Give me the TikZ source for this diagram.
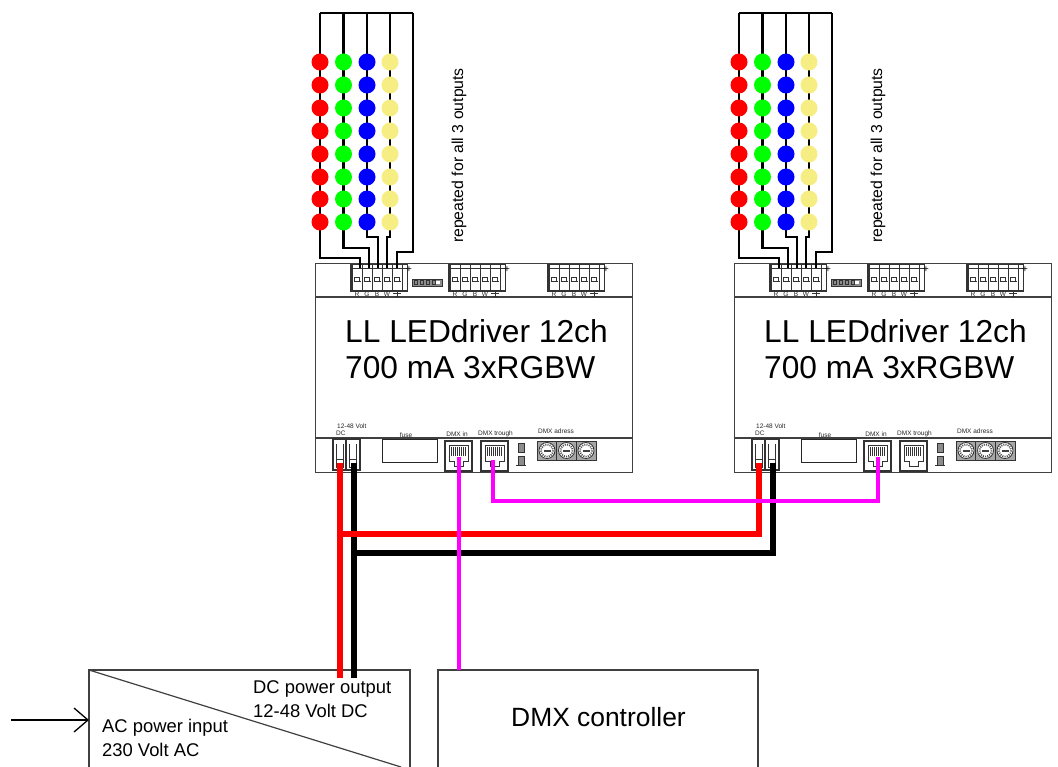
\documentclass[tikz,border=0pt]{standalone}
\usepackage{fontspec}
\setmainfont{Liberation Sans}
\usetikzlibrary{arrows.meta}
\definecolor{dmxpink}{RGB}{255,0,255}
\definecolor{ledred}{RGB}{255,0,0}
\definecolor{ledgreen}{RGB}{0,255,0}
\definecolor{ledblue}{RGB}{0,0,255}
\definecolor{ledwhite}{RGB}{246,238,130}
\tikzset{
  x=1pt,y=-1pt,
  boxline/.style={draw=black!75,line width=1.2pt},
  thin part/.style={draw=black!80,line width=0.8pt},
  led wire/.style={draw=black,line width=2.8pt,line join=miter},
  led/.style={circle,minimum size=17pt,inner sep=0pt,draw=none},
  tiny/.style={font=\fontsize{6.5}{6.5}\selectfont,inner sep=0pt,text=black!85},
  big/.style={font=\fontsize{31.7}{36}\selectfont,align=left,inner sep=0pt,anchor=center},
  mid/.style={font=\fontsize{18.4}{22}\selectfont,align=left,inner sep=0pt,anchor=west},
  redwire/.style={draw=ledred,line width=6pt},
  blackwire/.style={draw=black,line width=6pt},
  dmxwire/.style={draw=dmxpink,line width=4pt},
}
% one terminal block of five cells, left edge #1
\newcommand{\termblock}[2]{%
  \coordinate (#2) at (#1,268);
  \draw[thin part,fill=white] (#1,264) rectangle ++(56,27);
  \draw[thin part] (#1,268) -- ++(56,0);
  \draw[thin part,line width=1.5pt] (#1,264) -- ++(0,27) -- ++(56,0);
  \foreach \c in {0,1,2,3,4}{
    \draw[thin part] (#1+1+\c*10,264) -- ++(0,27);
    \draw[thin part] (#1+3.5+\c*10,281) -- ++(0,-4) -- ++(5,0) -- ++(0,4);
    \draw[thin part] (#1+2.5+\c*10,281) -- ++(7,0);
  }
  \draw[thin part] (#1+51,264) -- ++(0,27);
  \node[font=\fontsize{10}{10}\selectfont,inner sep=0pt] at (#1+58,270) {+};
  \foreach \l [count=\i from 0] in {R,G,B,W}
    \node[tiny] at (#1+6+\i*10,294.5) {\l};
  \draw[thin part] (#1+42,293) -- ++(8,0) (#1+46,290) -- ++(0,7) (#1+44,296) -- ++(4,0);
}
\newcommand{\rj}[1]{%
  \draw[thin part,line width=1.2pt] (#1,441) rectangle ++(27,30);
  \draw[thin part] (#1+4,445) -- ++(19,0) -- ++(0,16) -- ++(-5,0) -- ++(0,5) -- ++(-9,0) -- ++(0,-5) -- ++(-5,0) -- cycle;
  \foreach \k in {0,...,7}
    \draw[thin part,line width=0.7pt] (#1+6.5+\k*2,447) -- ++(0,9);
}
\newcommand{\knob}[1]{%
  \draw[thin part,fill=black!35] (#1-10,441) rectangle (#1+10,460);
  \draw[thin part,fill=white] (#1,450.5) circle (8);
  \draw[black!70,line width=1.8pt,dash pattern=on 1pt off 1.2pt] (#1,450.5) circle (6);
  \fill[black!75] (#1-3.5,449.5) rectangle (#1+3.5,451.5);
}
\newcommand{\driver}[2]{%
\begin{scope}[shift={(#2,0)},name prefix=#1-]
  \node[draw=black!75,line width=1.2pt,minimum width=317pt,minimum height=209pt,inner sep=0pt,anchor=north west] (body) at (315,263) {};
  \draw[boxline] (315,297) -- (632,297);
  \draw[boxline] (315,438) -- (632,438);
  \termblock{351}{t}
  \termblock{449}{u}
  \termblock{548}{v}
  \draw[thin part,fill=black!45] (412,279) rectangle (442,286);
  \fill[white] (436,281) rectangle (440,284);
  \foreach \k in {414,420,426,432} \draw[black!80,line width=0.8pt] (\k,280.5) rectangle ++(3,4);
  % LED strings
  \coordinate (top1) at (320,13);
  \coordinate (top2) at (343.5,13);
  \coordinate (top3) at (367,13);
  \coordinate (top4) at (390,13);
  \coordinate (top5) at (413,13);
  \coordinate (p1) at (360,268);
  \coordinate (p2) at (369,268);
  \coordinate (p3) at (378,268);
  \coordinate (p4) at (387,268);
  \coordinate (p5) at (397,268);
  \draw[led wire] (top1) -- (top5);
  \draw[led wire] (top1) -- ++(0,245) -| (p1);
  \draw[led wire] (top2) -- ++(0,235) -| (p2);
  \draw[led wire] (top3) -- ++(0,224) -| (p3);
  \draw[led wire] (top4) -- ++(0,224) -| (p4);
  \draw[led wire] (top5) -- ++(0,239) -| (p5);
  \foreach \y [count=\n] in {62,85,108,131,154,177,199,222}{
    \node[led,fill=ledred] (r\n) at (320,\y) {};
    \node[led,fill=ledgreen] (g\n) at (343.5,\y) {};
    \node[led,fill=ledblue] (b\n) at (367,\y) {};
    \node[led,fill=ledwhite] (w\n) at (390,\y) {};
  }
  \node[rotate=90,font=\fontsize{15.8}{15.8}\selectfont,inner sep=0pt] (rep) at (459,155.5) {repeated for all 3 outputs};
  \node[big] (title) at (476.5,349) {LL LEDdriver 12ch\\700 mA 3xRGBW};
  % bottom row
  \node[tiny,anchor=west] (vlabel) at (337,426.5) {12-48 Volt};
  \node[tiny,anchor=west] (dclabel) at (336,433.5) {DC};
  \draw[thin part,line width=1.2pt] (333,439) rectangle (346,470);
  \draw[thin part,line width=1.2pt] (346,439) rectangle (360,470);
  \foreach \q in {333,346}{
    \draw[thin part] (\q+3,444) -- ++(0,15) (\q+10,444) -- ++(0,15);
    \draw[thin part] (\q+3,459) rectangle ++(7,8);
  }
  \node[tiny,anchor=center] (fuselabel) at (406,435) {fuse};
  \node[draw=black!85,line width=1.2pt,minimum width=55pt,minimum height=23pt,inner sep=0pt,anchor=north west] (fuse) at (382,439) {};
  \node[tiny,anchor=center] (dmxinl) at (457,434) {DMX in};
  \rj{445}
  \coordinate (in) at (459,457);
  \node[tiny,anchor=center] (dmxthl) at (495.5,434) {DMX trough};
  \rj{481}
  \coordinate (th) at (493,460);
  \draw[thin part,fill=black!45] (518,443) rectangle ++(6,9);
  \draw[thin part,fill=black!45] (518,456) rectangle ++(6,9);
  \draw[thin part] (516,465) -- ++(10,0);
  \node[tiny,anchor=center] (adr) at (556,431) {DMX adress};
  \knob{547}\knob{566.5}\knob{586}
  \coordinate (pr) at (340,463);
  \coordinate (pb) at (354,463);
\end{scope}}
\begin{document}
\begin{tikzpicture}
\useasboundingbox (0,0) rectangle (1058,767);
\fill[white] (0,0) rectangle (1058,767);
\driver{a}{0}
\driver{b}{419}
% power boxes
\coordinate (psuTL) at (89,670);
\coordinate (psuTR) at (410,670);
\coordinate (psuBL) at (89,767);
\coordinate (psuBR) at (410,767);
\coordinate (diagEnd) at (401,767);
\draw[boxline] (psuBL) -- (psuTL) -- (psuTR) -- (psuBR);
\draw[boxline] (psuTL) -- (diagEnd);
\draw[boxline] (438,767) -- (438,670) -- (758,670) -- (758,767);
\coordinate (ctrlIn) at (459,670);
\node[font=\fontsize{26.4}{26.4}\selectfont,inner sep=0pt] (ctrl) at (598.5,717) {DMX controller};
\node[mid] (dcl) at (253,689) {DC power output};
\node[mid] (dcv) at (253,711) {12-48 Volt DC};
\node[mid] (acl) at (102,728) {AC power input};
\node[mid] (acv) at (102,750) {230 Volt AC};
\coordinate (acIn) at (11,720);
\coordinate (acEnd) at (89,720);
\draw[black,line width=1.3pt,-{Straight Barb[length=14pt,width=24pt,line width=1.3pt]}] (acIn) -- (acEnd);
% DC power
\coordinate (psuR) at (340,678);
\coordinate (psuB) at (354,678);
\draw[blackwire] (a-pb) -- (psuB);
\draw[blackwire] (b-pb) |- (a-pb |- 0,553);
\draw[redwire] (a-pr) -- (psuR);
\draw[redwire] (b-pr) |- (a-pr |- 0,534);
% DMX
\draw[dmxwire] (a-in) -- (ctrlIn);
\draw[dmxwire] (a-th) |- (b-in |- 0,501) -- (b-in);
\end{tikzpicture}
\end{document}
